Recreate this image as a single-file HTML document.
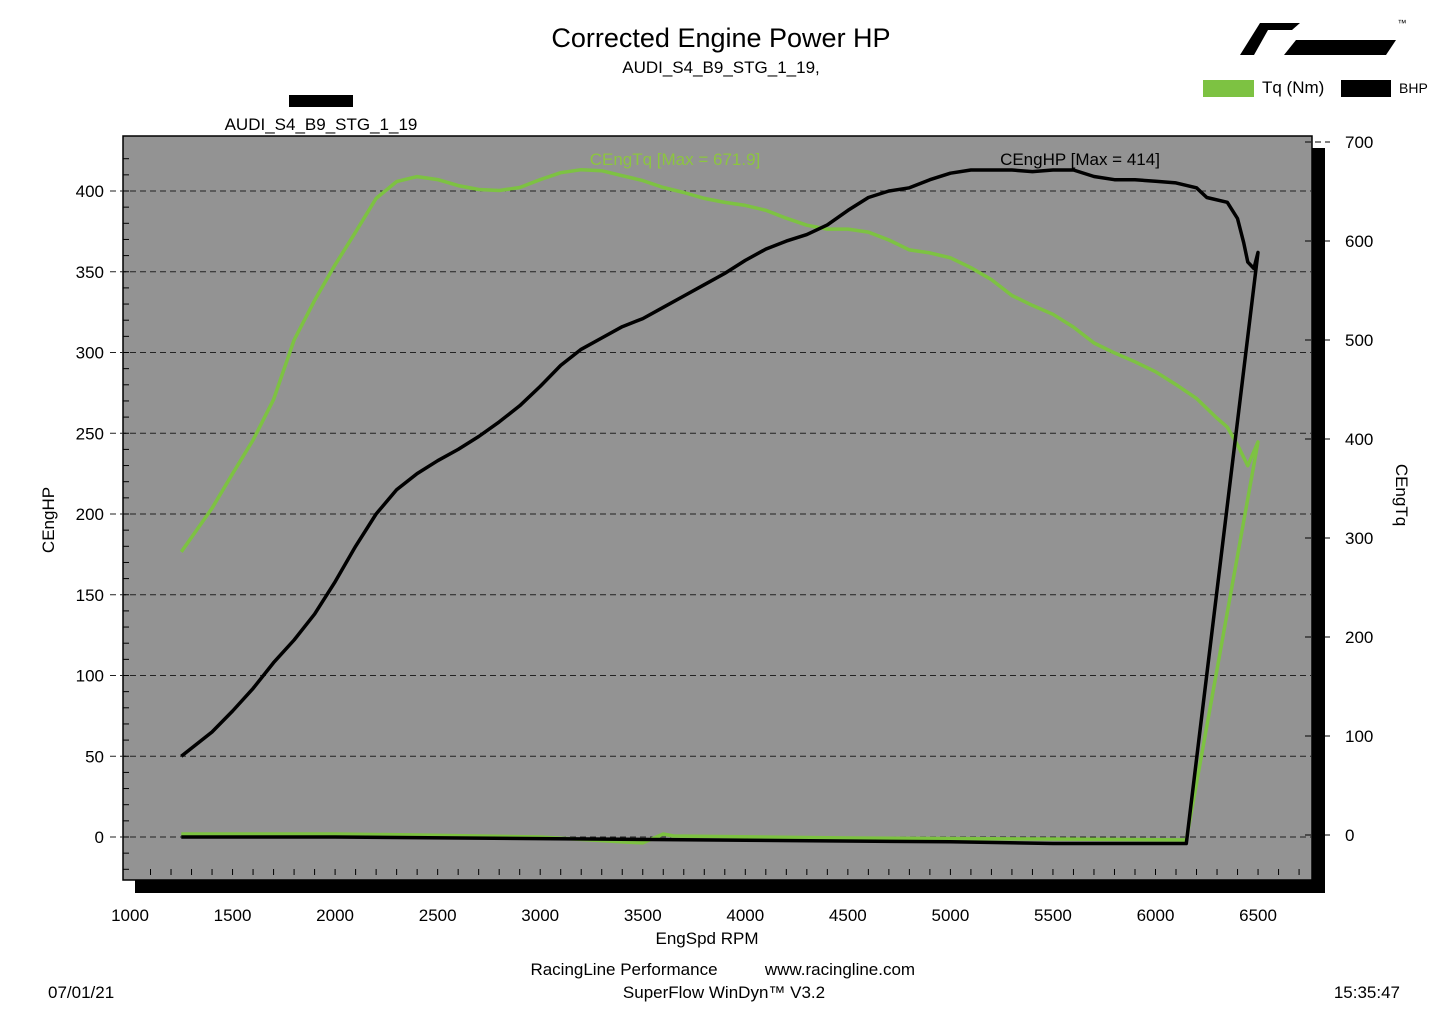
<!DOCTYPE html>
<html><head><meta charset="utf-8">
<style>
html,body{margin:0;padding:0;background:#fff;}
body{width:1445px;height:1022px;overflow:hidden;font-family:"Liberation Sans",sans-serif;}
</style></head>
<body>
<svg id="chart" width="1445" height="1022" xmlns="http://www.w3.org/2000/svg" font-family="Liberation Sans, sans-serif">
</svg>
<script>
// ---- data ----
const hpRpm = [1250,1400,1500,1600,1700,1800,1900,2000,2100,2200,2300,2400,2500,2600,2700,2800,2900,3000,3100,3200,3300,3400,3500,3600,3700,3800,3900,4000,4100,4200,4300,4400,4500,4600,4700,4800,4900,5000,5100,5200,5300,5400,5500,5600,5700,5800,5900,6000,6100,6200,6250,6350,6400,6430,6450,6480,6500];
const hpVal = [50,65,78,92,108,122,138,158,180,200,215,225,233,240,248,257,267,279,292,302,309,316,321,328,335,342,349,357,364,369,373,379,388,396,400,402,407,411,413,413,413,412,413,413,409,407,407,406,405,402,396,393,383,368,356,352,362];
const hpRetRpm = [6150,5500,5000,4000,3000,2000,1500,1250];
const hpRetVal = [-4,-4,-3,-2,-1,0,0,0];
const tqRpm = [1250,1400,1500,1600,1700,1800,1900,2000,2100,2200,2300,2400,2500,2600,2700,2800,2900,3000,3100,3200,3300,3400,3500,3600,3700,3800,3900,4000,4100,4200,4300,4400,4500,4600,4700,4800,4900,5000,5100,5200,5300,5400,5500,5600,5700,5800,5900,6000,6100,6200,6300,6350,6400,6450,6500];
const tqVal = [286,330,365,399,440,500,540,576,609,643,660,665,662,656,652,651,654,662,669,672,671,666,661,654,649,643,639,636,631,623,616,612,612,609,601,591,588,583,573,561,545,535,526,513,497,487,478,468,455,441,421,412,394,373,397];
const tqRetRpm = [6150,5500,4500,3650,3600,3500,3400,3000,2400,2000,1500,1250];
const tqRetVal = [-5,-4,-3,-1,1,-8,-7,-2,0,1,1,1];
const xTicks = [1000,1500,2000,2500,3000,3500,4000,4500,5000,5500,6000,6500];
const hpTicks = [0,50,100,150,200,250,300,350,400];
const tqTicks = [0,100,200,300,400,500,600,700];

const NS='http://www.w3.org/2000/svg';
const svg=document.getElementById('chart');
const X=r=>130+(r-1000)*0.2051;
const YL=v=>837-v*1.615;
const YR=v=>835-v*0.99;
function mk(tag,attrs,parent){const e=document.createElementNS(NS,tag);for(const k in attrs)e.setAttribute(k,attrs[k]);(parent||svg).appendChild(e);return e;}
function txt(s,x,y,size,fill,anchor,name){const t=mk('text',{x:x,y:y,'font-size':size,fill:fill||'#000','text-anchor':anchor||'start'});t.textContent=s;


return t;}

let sh=mk('rect',{x:135,y:148,width:1190,height:745,fill:'#000'});


let pa=mk('rect',{x:123,y:136,width:1189,height:744,fill:'#939393',stroke:'#000','stroke-width':1.5});



hpTicks.forEach(v=>{
  const g=mk('line',{x1:110,x2:1312,y1:YL(v),y2:YL(v),stroke:'#222','stroke-width':1,'stroke-dasharray':'6,4'});
  
  
  txt(String(v),104,YL(v)+6,17,'#000','end','y-tick-label');
});
for(let v=-20;v<=420;v+=10){const m=mk('line',{x1:123,x2:129,y1:YL(v),y2:YL(v),stroke:'#000'});

}
tqTicks.forEach(v=>{
  const m=mk('line',{x1:1305,x2:1330,y1:YR(v),y2:YR(v),stroke:'#000','stroke-dasharray':'6,4'});
  
  
  txt(String(v),1345,YR(v)+6,17,'#000','start','right-tick-label');
});
xTicks.forEach(r=>{txt(String(r),X(r),921,17,'#000','middle','x-tick-label');});
for(let r=1100;r<=6700;r+=100){const m=mk('line',{x1:X(r),x2:X(r),y1:869,y2:875,stroke:'#000'});

}

function path(rs,vs,yf){return rs.map((r,i)=>(i?'L':'M')+X(r).toFixed(1)+','+yf(vs[i]).toFixed(1)).join(' ');}
let tq=mk('path',{d:path(tqRpm,tqVal,YR)+' '+path(tqRetRpm,tqRetVal,YR).replace('M','L'),fill:'none',stroke:'#7dc242','stroke-width':3.5,'stroke-linejoin':'round'});


let hp=mk('path',{d:path(hpRpm,hpVal,YL)+' '+path(hpRetRpm,hpRetVal,YL).replace('M','L'),fill:'none',stroke:'#000','stroke-width':3.5,'stroke-linejoin':'round'});



txt('CEngTq [Max = 671.9]',675,165,17,'#8cc63f','middle','torque-max-label');
txt('CEngHP [Max = 414]',1080,165,17,'#000','middle','hp-max-label');

txt('Corrected Engine Power HP',721,47,27,'#000','middle','chart-title');
txt('AUDI_S4_B9_STG_1_19,',721,73,17,'#000','middle','chart-subtitle');
let lk=mk('rect',{x:289,y:95,width:64,height:12,fill:'#000'});


txt('AUDI_S4_B9_STG_1_19',321,130,17,'#000','middle','run-legend-label');
txt('EngSpd RPM',707,944,17,'#000','middle','x-axis-title');
let yt=txt('CEngHP',54,520,17,'#000','middle','y-axis-title');yt.setAttribute('transform','rotate(-90 54 520)');
let rt=txt('CEngTq',1396,495,17,'#000','middle','right-axis-title');rt.setAttribute('transform','rotate(90 1396 495)');
txt('RacingLine Performance',624,975,17,'#000','middle','footer-company');
txt('www.racingline.com',840,975,17,'#000','middle','footer-url');
txt('SuperFlow WinDyn™ V3.2',724,998,17,'#000','middle','footer-software');
txt('07/01/21',48,998,17,'#000','start','footer-date');
txt('15:35:47',1400,998,17,'#000','end','footer-time');

let l1=mk('polygon',{points:'1240,55 1260,23 1300,23 1292,30 1268,30 1254,55',fill:'#000'});


let l2=mk('polygon',{points:'1284,55 1296,40 1396,40 1386,55',fill:'#000'});


txt('™',1402,26,9,'#000','middle','logo-tm');
let ls1=mk('rect',{x:1203,y:80,width:51,height:17,fill:'#7dc242'});


txt('Tq (Nm)',1262,93,17,'#000','start','legend-label-torque');
let ls2=mk('rect',{x:1341,y:80,width:50,height:17,fill:'#000'});


txt('BHP',1399,93,14,'#000','start','legend-label-bhp');
</script>
</body></html>
